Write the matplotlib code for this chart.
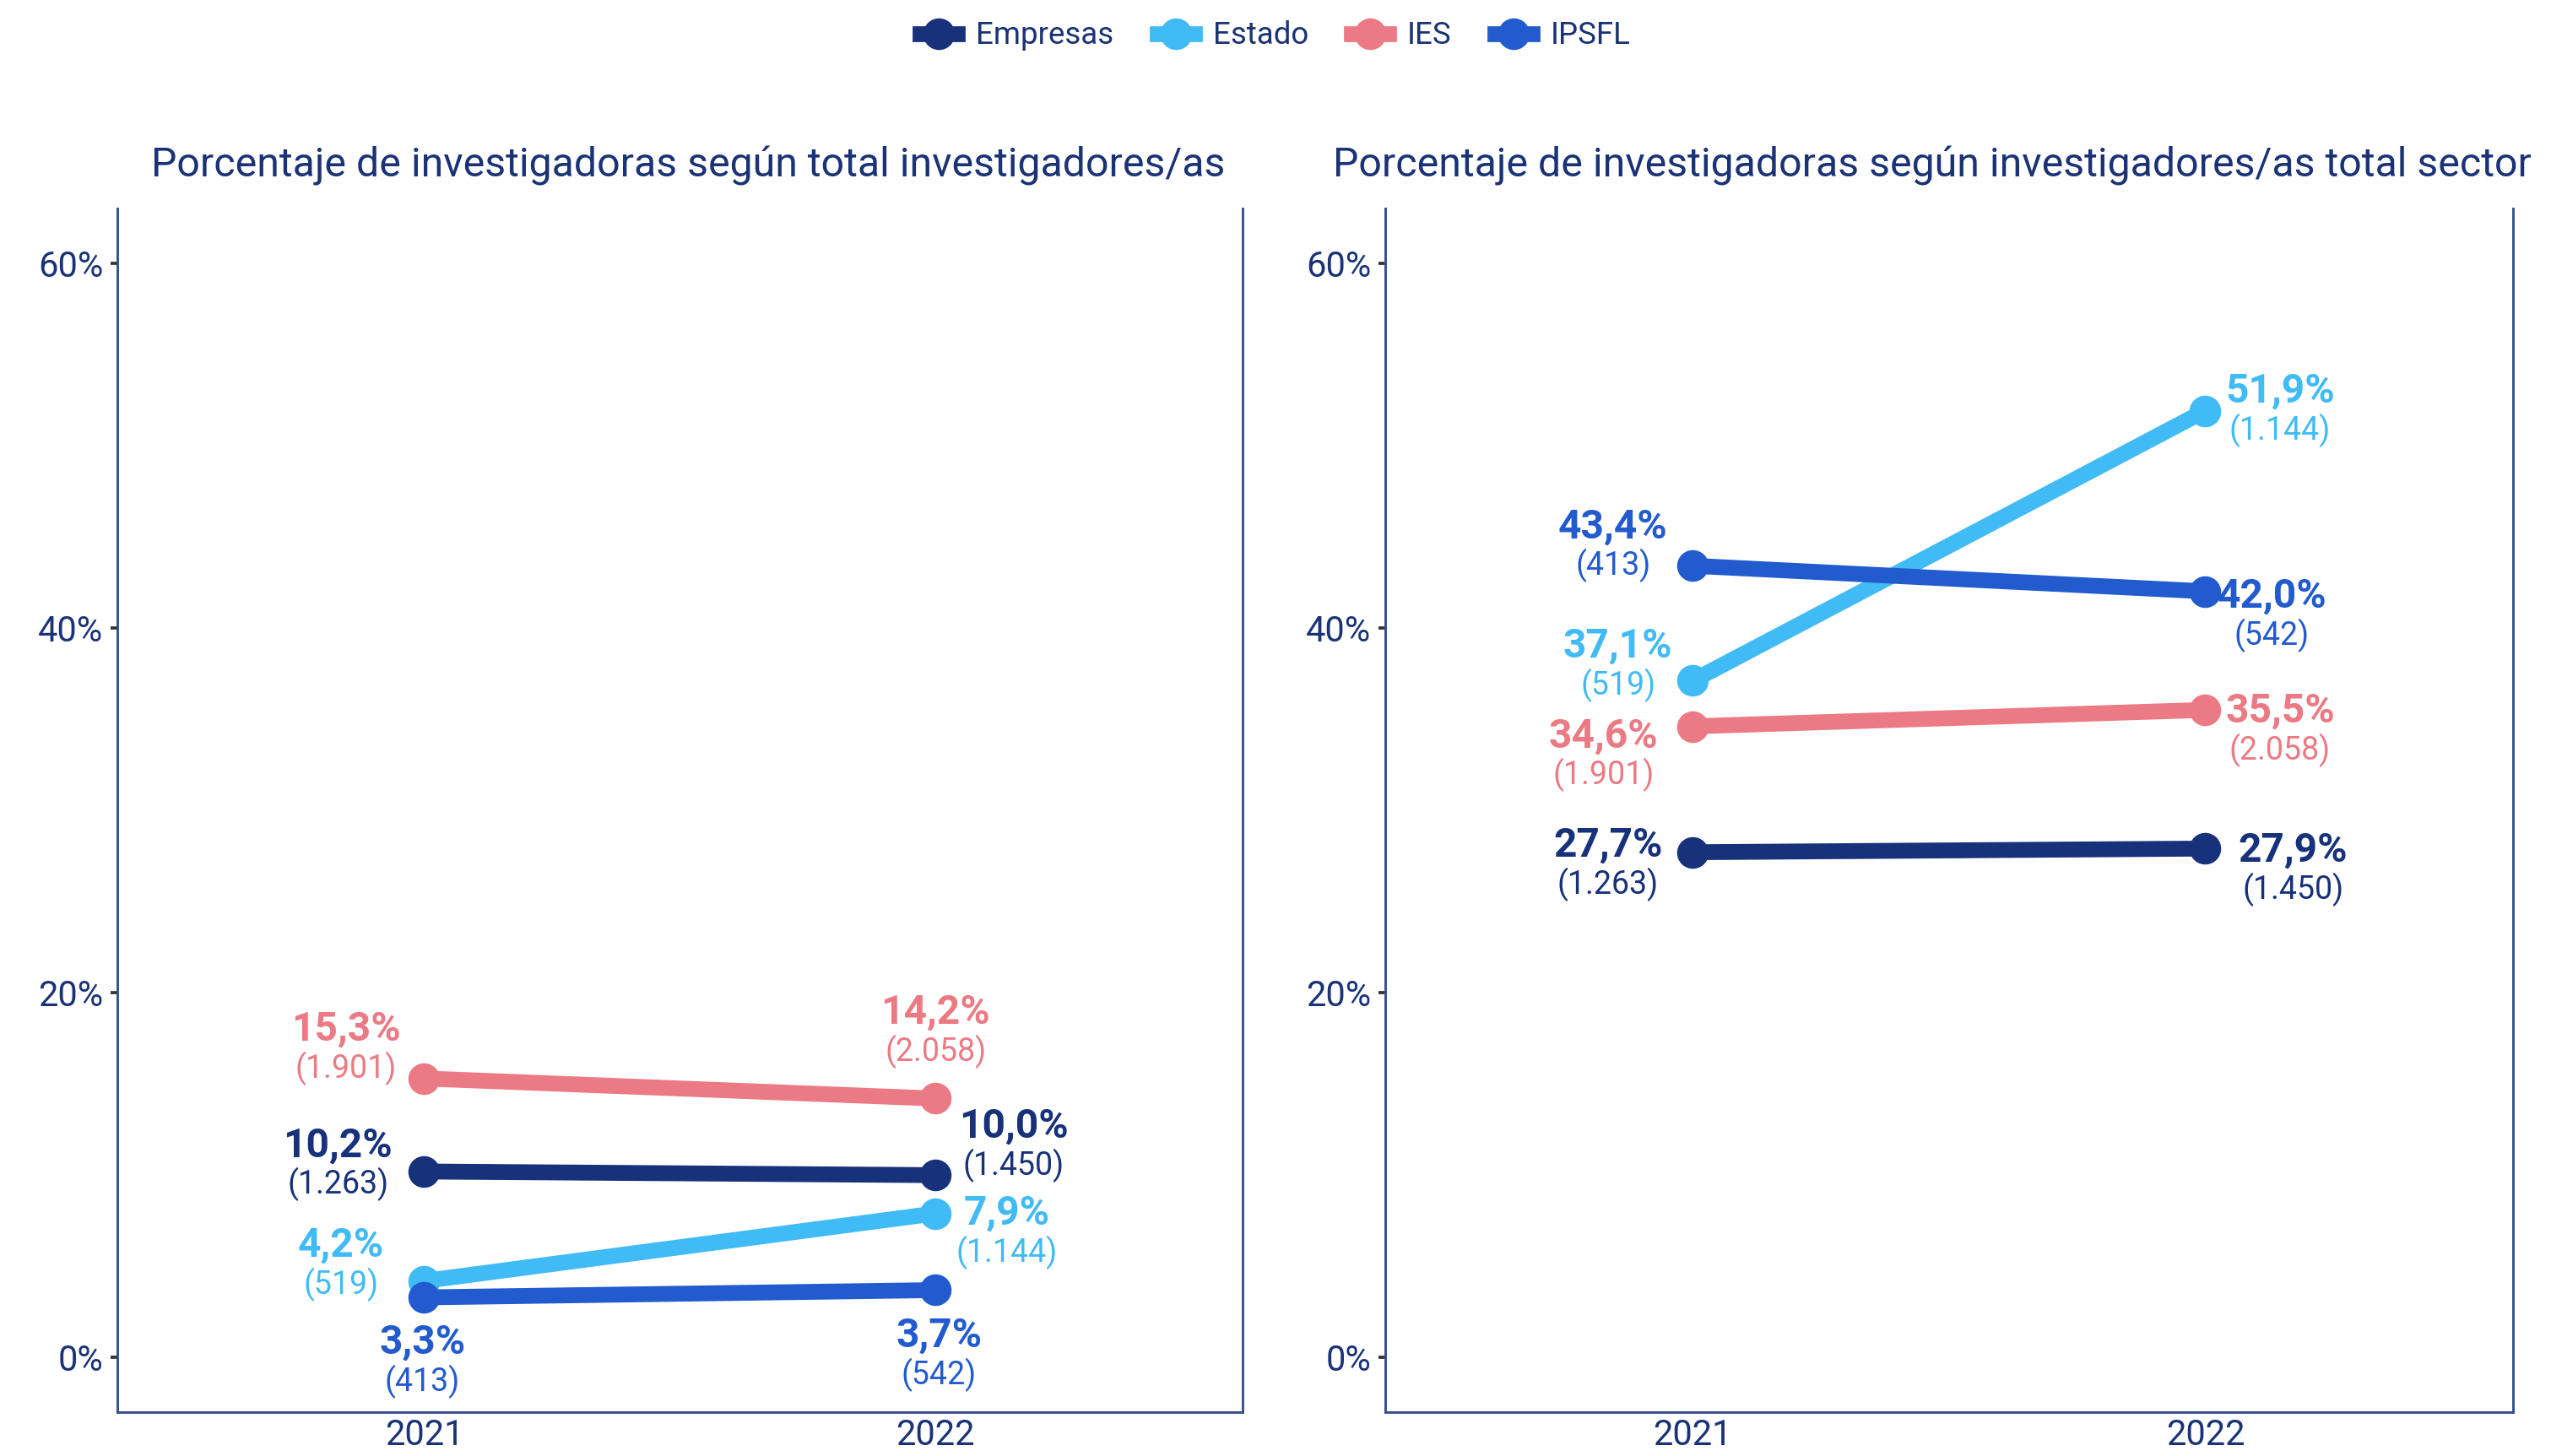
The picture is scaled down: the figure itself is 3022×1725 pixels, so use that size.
"""Porcentaje de investigadoras por sector, 2021-2022"""

import matplotlib
matplotlib.use("Agg")
from matplotlib import pyplot as plt
from matplotlib.lines import Line2D

plt.rcParams["font.family"] = ["Roboto", "DejaVu Sans"]

years = [2021, 2022]
sectors = ["Empresas", "Estado", "IES", "IPSFL"]
share_of_total = {
    "Empresas": [10.2, 10.0],
    "Estado": [4.2, 7.9],
    "IES": [15.3, 14.2],
    "IPSFL": [3.3, 3.7],
}
share_of_sector = {
    "Empresas": [27.7, 27.9],
    "Estado": [37.1, 51.9],
    "IES": [34.6, 35.5],
    "IPSFL": [43.4, 42.0],
}
researchers = {
    "Empresas": [1263, 1450],
    "Estado": [519, 1144],
    "IES": [1901, 2058],
    "IPSFL": [413, 542],
}
titles = [
    "Porcentaje de investigadoras según total investigadores/as",
    "Porcentaje de investigadoras según investigadores/as total sector",
]

colours = {
    "Empresas": "#17317a",
    "Estado": "#41bbf5",
    "IES": "#ec7a84",
    "IPSFL": "#225bce",
}
navy = "#1a3276"

# label offsets (reference pixels) per panel / sector / year
label_offsets = [
    {
        "Empresas": [(-53, -16), (48, -30)],
        "Estado": [(-51, -22), (44, 0)],
        "IES": [(-48, -30), (0, -53)],
        "IPSFL": [(-1, 28), (2, 28)],
    },
    {
        "Empresas": [(-52, -4), (54, 1)],
        "Estado": [(-46, -21), (46, -12)],
        "IES": [(-55, 6), (46, 1)],
        "IPSFL": [(-49, -24), (41, 3)],
    },
]
PX = 72 / 300 * 3022 / 1568  # reference px -> points
title_x = [0.507, 0.485]


def fmt_pct(v):
    return f"{v:.1f}%".replace(".", ",")


def fmt_n(n):
    return "(" + f"{n:,}".replace(",", ".") + ")"


fig = plt.figure(figsize=(3022 / 300, 1725 / 300), dpi=300)
axes = [
    fig.add_axes([0.046, 0.030, 0.441, 0.827]),
    fig.add_axes([0.543, 0.030, 0.442, 0.827]),
]

for p, (ax, data) in enumerate(zip(axes, (share_of_total, share_of_sector))):
    for s in sectors:
        ax.plot(years, data[s], color=colours[s], lw=4.5, marker="o",
                ms=8, solid_capstyle="butt", zorder=3)
        for i, yr in enumerate(years):
            dx, dy = label_offsets[p][s][i]
            ax.annotate(fmt_pct(data[s][i]), (yr, data[s][i]),
                        xytext=(dx * PX, -dy * PX), textcoords="offset points",
                        ha="center", va="center", color=colours[s],
                        fontsize=11.5, fontweight="bold", zorder=4)
            ax.annotate(fmt_n(researchers[s][i]), (yr, data[s][i]),
                        xytext=(dx * PX, -(dy + 24) * PX), textcoords="offset points",
                        ha="center", va="center", color=colours[s],
                        fontsize=9, zorder=4)

    ax.set_xlim(2020.4, 2022.6)
    ax.set_ylim(-3, 63)
    ax.set_xticks(years)
    ax.set_xticklabels([str(y) for y in years])
    ax.set_yticks([0, 20, 40, 60])
    ax.set_yticklabels(["0%", "20%", "40%", "60%"])
    ax.tick_params(axis="y", colors="#333333", labelcolor=navy, labelsize=10,
                   length=2, width=0.9, pad=2)
    ax.tick_params(axis="x", labelcolor=navy, labelsize=10, length=0, pad=1.5)
    ax.spines["top"].set_visible(False)
    for sp in ("left", "right", "bottom"):
        ax.spines[sp].set_color("#34508f")
        ax.spines[sp].set_linewidth(0.7)
    ax.set_title(titles[p], color=navy, fontsize=11.6, pad=9, x=title_x[p])

handles = [
    Line2D([0], [0], color=colours[s], lw=4.5, marker="o", ms=8)
    for s in sectors
]
fig.legend(handles, sectors, loc="upper center", bbox_to_anchor=(0.5, 1.005),
           ncol=4, frameon=False, fontsize=8.8, labelcolor=navy,
           handlelength=1.2, handletextpad=0.6, columnspacing=1.4)

fig.savefig("out.png", dpi=300)
